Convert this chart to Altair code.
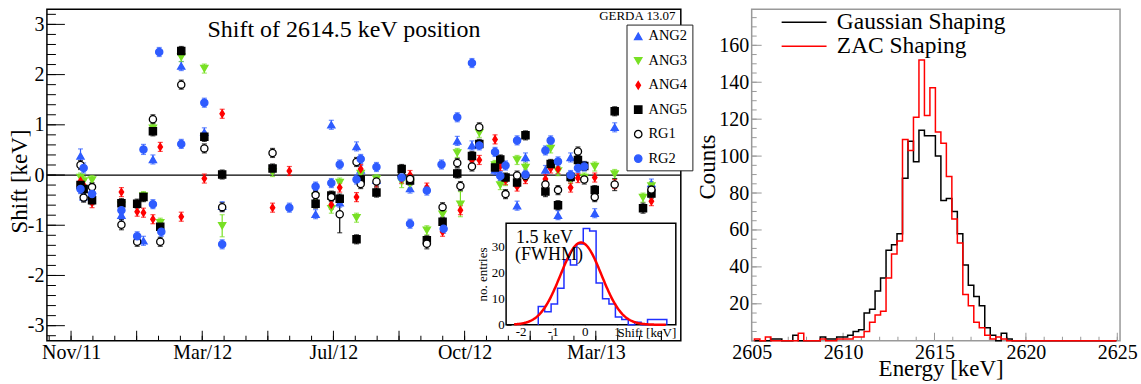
import altair as alt
import pandas as pd

FONT = "Liberation Serif"

# ---------------- left panel: shift of the 2614.5 keV line ----------------
SERIES = ["ANG2", "ANG3", "ANG4", "ANG5", "RG1", "RG2"]
SHAPES = ["triangle-up", "triangle-down", "M0,-1L0.62,0L0,1L-0.62,0Z", "square", "circle", "circle"]
STROKES = ["#2f5cff", "#78e024", "#ff0000", "#000000", "#000000", "#2f5cff"]
FILLS = ["#2f5cff", "#78e024", "#ff0000", "#000000", "#ffffff", "#2f5cff"]
ERR_DEFAULT = 0.09

# (days since 1 Nov 2011, shift [keV], error [keV] optional)
ANG2 = [(9, 0.38, 0.14), (12, -0.43), (20, -0.30), (48, -0.80), (69, -1.31), (78, 0.31),
        (105, 2.17), (127, 0.85), (144, -0.62), (233, -0.78), (248, 1.00), (256, -0.55),
        (272, 0.57), (276, 0.10), (291, -0.10), (315, 0.04), (323, -0.27), (368, 0.68),
        (382, 0.59), (404, 0.10), (425, -0.61), (433, 0.35), (452, 0.10), (464, -0.80),
        (476, 0.35), (499, -0.76), (518, 0.95), (553, -0.17)]
ANG3 = [(9, -0.05), (12, -0.12), (20, -0.10), (48, -0.60), (69, -0.42), (78, 0.93),
        (85, -0.95), (105, 2.35), (127, 2.12), (144, -1.01, 0.22), (192, 0.06), (233, -0.43),
        (248, -0.67), (256, -0.15), (272, -0.85), (276, 0.03), (291, -0.08), (315, -0.13, 0.12),
        (323, -0.17), (339, -1.10), (354, -0.78), (368, 0.44), (371, -0.58, 0.25), (389, 0.84),
        (404, 0.20), (409, -0.20), (414, -0.12), (425, 0.30), (433, 0.15), (457, 0.53),
        (464, 0.08), (476, -0.08), (489, -0.05), (499, 0.17), (518, 0.02), (545, -0.45),
        (553, -0.22)]
ANG4 = [(9, -0.12), (12, -0.20), (20, -0.55, 0.10), (48, -0.34), (63, -0.73), (69, -0.75),
        (78, -0.88), (85, 0.56), (105, -0.83), (127, -0.07), (144, 1.22), (192, -0.65),
        (208, 0.08), (248, -0.59), (256, -0.25), (272, -0.44), (276, 0.12), (291, -0.15),
        (315, -0.08), (323, 0.00), (339, -0.25), (354, -1.13), (371, -0.70), (382, 0.30),
        (389, 0.30), (404, 0.71), (409, 0.18), (414, -0.10), (425, -0.23), (433, -0.08),
        (452, -0.08), (457, 0.13), (464, 0.12), (476, -0.25), (483, -0.06), (499, -0.05),
        (518, -0.18), (553, -0.52)]
ANG5 = [(9, -0.20), (12, -0.28), (20, -0.50), (48, -0.56), (63, -0.57), (69, -0.44),
        (78, 0.87), (85, -1.03), (105, 2.47), (127, 0.76), (144, 0.01), (192, 0.13),
        (233, -0.57), (248, -0.41), (256, -0.47), (272, -1.28), (276, -0.09), (291, -0.35),
        (315, 0.12), (323, -0.11), (339, -1.30), (354, -0.93), (368, 0.03), (382, 0.38),
        (389, 0.62), (404, 0.15), (409, 0.31), (414, -0.05), (425, -0.15), (433, 0.79),
        (452, -0.33, 0.10), (457, 0.22), (464, -0.60), (476, -0.04), (483, 0.30), (489, 0.18),
        (499, -0.30), (518, 1.27), (545, -0.66, 0.10), (553, -0.37)]
RG1 = [(9, 0.20), (12, -0.45), (20, -0.24), (48, -0.99, 0.10), (63, -1.33), (78, 1.11, 0.09),
       (85, -1.33), (105, 1.80), (127, 0.53), (144, -0.64), (192, 0.44), (233, -0.40),
       (248, -0.44), (256, -0.78, 0.37), (272, 0.26), (276, -0.18), (291, -0.13), (315, -0.02),
       (323, -0.08), (339, -1.37, 0.10), (354, -0.64), (368, 0.24), (371, -0.22), (382, 0.17),
       (389, 0.95, 0.09), (414, -0.38), (425, -0.01), (433, -0.02), (452, -0.19), (464, -0.30),
       (483, 0.47, 0.09), (489, -0.09), (499, -0.44), (518, -0.19, 0.12), (553, -0.29)]
RG2 = [(9, -0.28), (12, 0.14, 0.10), (20, -0.38), (48, -0.70), (63, -1.22), (69, 0.51, 0.10),
       (78, -0.58), (84, 2.45), (86, -1.13), (105, 0.62, 0.09), (127, 1.44), (144, -1.38),
       (208, -0.65), (233, -0.23), (248, -0.16), (256, 0.21), (272, -0.09), (276, 0.32),
       (291, 0.16), (315, -0.05), (323, -0.97), (339, -0.31), (353, 0.21), (355, -1.07),
       (368, 1.15), (382, 2.23, 0.09), (389, 0.59), (404, 0.46), (409, -0.02), (414, 0.19),
       (425, 0.69), (433, 0.01), (452, 0.49), (457, 0.69), (464, 0.27), (476, 0.00),
       (483, 0.14), (489, 0.17)]
SERIES_DATA = {"ANG2": ANG2, "ANG3": ANG3, "ANG4": ANG4, "ANG5": ANG5, "RG1": RG1, "RG2": RG2}

TIME_TICK_DAYS = [0, 125, 250, 375, 500]
TIME_TICK_LABELS = ["Nov/11", "Mar/12", "Jul/12", "Oct/12", "Mar/13"]
Y_LABELS = [-3, -2, -1, 0, 1, 2, 3]
MAIN_XDOM = [-23, 581]
MAIN_YDOM = [-3.3, 3.3]
MAIN_TITLE = "Shift of 2614.5 keV position"
EXP_TAG = "GERDA 13.07"

# inset: distribution of all shifts
INSET_EDGE0 = -1.45
INSET_BIN = 0.2
INSET_COUNTS = [7, 5, 8, 14, 25, 23, 31, 37, 36, 16, 10, 8, 3, 2, 0, 1, 0, 2, 2, 2]
GAUSS_AMP = 31.6
GAUSS_MEAN = -0.12
GAUSS_FWHM = 1.5
INSET_XDOM = [-2.45, 2.83]
INSET_YDOM = [0, 39]

# ---------------- right panel: 2614.5 keV peak ----------------
SHAPING = ["Gaussian Shaping", "ZAC Shaping"]
E_EDGE0 = 2605.15
E_BIN = 0.3
GAUSS_SHAPING = [0, 0, 0, 1, 1, 0, 0, 3, 0, 0, 0, 0, 2, 1, 1, 2, 2, 3, 5, 6,
                 15, 17, 27, 34, 49, 52, 58, 88, 108, 97, 114, 111, 111, 100, 76, 77,
                 70, 58, 41, 30, 24, 19, 7, 3, 0, 4, 1, 0, 0, 0, 0, 0, 0, 0, 0, 0,
                 0, 0, 0, 0, 0, 0, 0, 0, 0, 0]
ZAC_SHAPING = [1, 0, 2, 0, 0, 0, 0, 0, 4, 0, 0, 0, 1, 0, 0, 1, 1, 1, 2, 2,
               5, 10, 14, 16, 34, 47, 54, 109, 103, 121, 152, 122, 137, 113, 107, 89,
               66, 53, 25, 19, 10, 7, 3, 1, 2, 1, 0, 0, 0, 0, 0, 0, 0, 0, 0, 0,
               0, 0, 0, 0, 0, 0, 0, 0, 0, 0]
E_XDOM = [2605, 2625.15]
E_YDOM = [0, 179.5]
E_TICKS = [2605, 2610, 2615, 2620, 2625]
C_TICKS = [20, 40, 60, 80, 100, 120, 140, 160]

# ---------------- layout ----------------
MW, MH = 635, 332
RW, RH = 369, 332
INSET_XR = [460, 630]
INSET_YR = [316, 214.3]

MINUS_FIX = "replace(datum.label, '\u2212', '-')"


def label_expr(values, labels):
    expr = "''"
    for v, l in reversed(list(zip(values, labels))):
        expr = f"datum.value == {v} ? '{l}' : {expr}"
    return expr


rows = []
for s in SERIES:
    for t in SERIES_DATA[s]:
        e = t[2] if len(t) > 2 else ERR_DEFAULT
        rows.append({"series": s, "bar": "e_" + s, "day": t[0], "shift": t[1],
                     "lo": t[1] - e, "hi": t[1] + e})
pts = pd.DataFrame(rows)

mx_scale = alt.Scale(domain=MAIN_XDOM, nice=False, zero=False)
my_scale = alt.Scale(domain=MAIN_YDOM, nice=False, zero=False)
main_x_axis = alt.Axis(values=TIME_TICK_DAYS, labelExpr=label_expr(TIME_TICK_DAYS, TIME_TICK_LABELS),
                       ticks=False, tickSize=0, domain=False, grid=False, labelFontSize=20,
                       labelPadding=2, title=None, labelFlush=False, labelOverlap=False)
main_y_axis = alt.Axis(values=Y_LABELS, labelExpr=MINUS_FIX, ticks=False, tickSize=0, domain=False,
                       grid=False, labelFontSize=20, labelPadding=3, title="Shift [keV]",
                       titleFontSize=23, titleX=-20, titleY=172, titleAngle=270,
                       titleBaseline="alphabetic", titleAlign="center", titleFontWeight="normal")


def MX(f):
    return alt.X(f, type="quantitative", scale=mx_scale, axis=main_x_axis)


def MY(f):
    return alt.Y(f, type="quantitative", scale=my_scale, axis=main_y_axis)


legend_left = alt.Legend(orient="none", legendX=580.6, legendY=15.3, title=None, padding=4.5,
                         rowPadding=9.5, labelFont=FONT, labelFontSize=14.5, symbolSize=55,
                         symbolStrokeWidth=1.3, strokeColor="#222222", fillColor="white",
                         labelOffset=3, labelLimit=200)
stroke_enc = alt.Stroke("series:N", scale=alt.Scale(domain=SERIES, range=STROKES), legend=legend_left)
fill_enc = alt.Fill("series:N", scale=alt.Scale(domain=SERIES, range=FILLS), legend=legend_left)
shape_enc = alt.Shape("series:N", scale=alt.Scale(domain=SERIES, range=SHAPES), legend=legend_left)
color_enc = alt.Color("bar:N", scale=alt.Scale(domain=["e_" + s for s in SERIES], range=STROKES),
                      legend=None)

zero_line = alt.Chart(pd.DataFrame({"v": [0]})).mark_rule(color="black", strokeWidth=1.2).encode(y=MY("v"))
err_bars = alt.Chart(pts).mark_rule(strokeWidth=1.2).encode(x=MX("day"), y=MY("lo"), y2="hi", color=color_enc)
err_caps = alt.Chart(pts).transform_fold(["lo", "hi"], as_=["end", "yv"]).mark_tick(
    orient="horizontal", size=5, thickness=1.2).encode(x=MX("day"), y=MY("yv"), color=color_enc)
points = alt.Chart(pts).mark_point(size=52, strokeWidth=1.3, opacity=1).encode(
    x=MX("day"), y=MY("shift"), shape=shape_enc, stroke=stroke_enc, fill=fill_enc)

y_minor = [round(-3.2 + 0.2 * i, 2) for i in range(33)]
x_major = [62.5 * i for i in range(0, 10)]
x_minor = [125 / 6 * i for i in range(-1, 28)]
ytick_minor = alt.Chart(pd.DataFrame({"v": y_minor})).mark_rule(color="black").encode(
    y=MY("v"), x=alt.value(0), x2=alt.value(9))
ytick_major = alt.Chart(pd.DataFrame({"v": Y_LABELS})).mark_rule(color="black").encode(
    y=MY("v"), x=alt.value(0), x2=alt.value(18))
xtick_minor = alt.Chart(pd.DataFrame({"v": x_minor})).mark_rule(color="black").encode(
    x=MX("v"), y=alt.value(MH), y2=alt.value(MH - 5))
xtick_major = alt.Chart(pd.DataFrame({"v": x_major})).mark_rule(color="black").encode(
    x=MX("v"), y=alt.value(MH), y2=alt.value(MH - 10))

title_txt = alt.Chart(pd.DataFrame({"x": [260], "y": [2.74], "t": [MAIN_TITLE]})).mark_text(
    fontSize=24, align="center", baseline="alphabetic", color="black").encode(x=MX("x"), y=MY("y"), text="t:N")
tag_txt = alt.Chart(pd.DataFrame({"x": [576], "y": [3.08], "t": [EXP_TAG]})).mark_text(
    fontSize=13, align="right", baseline="alphabetic", color="black").encode(x=MX("x"), y=MY("y"), text="t:N")

main = alt.layer(zero_line, xtick_minor, xtick_major, ytick_minor, ytick_major,
                 err_bars, err_caps, points, title_txt, tag_txt)

# inset
ix_scale = alt.Scale(domain=INSET_XDOM, range=INSET_XR, nice=False, zero=False)
iy_scale = alt.Scale(domain=INSET_YDOM, range=INSET_YR, nice=False, zero=False)
ix_axis = alt.Axis(orient="bottom", offset=-21, values=[-2, -1, 0, 1], labelExpr=MINUS_FIX, tickSize=5,
                   tickColor="black", domain=False, grid=False, labelFontSize=13, labelPadding=1,
                   title="Shift [keV]", titleFontSize=13, titleX=630, titleY=13, titleAlign="right",
                   titleBaseline="middle", titleFontWeight="normal", labelFlush=False)
iy_axis = alt.Axis(orient="left", offset=-465, values=[0, 10, 20, 30], tickSize=5, tickColor="black",
                   domain=False, grid=False, labelFontSize=13, labelPadding=2, title="no. entries",
                   titleFontSize=13, titlePadding=2, titleFontWeight="normal", labelFlush=False)


def IX(f):
    return alt.X(f, type="quantitative", scale=ix_scale, axis=ix_axis)


def IY(f):
    return alt.Y(f, type="quantitative", scale=iy_scale, axis=iy_axis)


frame = alt.Chart(pd.DataFrame({"x": [INSET_XDOM[0]], "x1": [INSET_XDOM[1]], "y": [INSET_YDOM[0]],
                                "y1": [INSET_YDOM[1]]})).mark_rect(
    fill="white", stroke="black", strokeWidth=1.5).encode(x=IX("x"), x2="x1", y=IY("y"), y2="y1")

ih = [{"x": INSET_EDGE0, "y": 0, "i": 0}]
for k, c in enumerate(INSET_COUNTS):
    ih.append({"x": INSET_EDGE0 + k * INSET_BIN, "y": c, "i": k + 1})
ih.append({"x": INSET_EDGE0 + len(INSET_COUNTS) * INSET_BIN, "y": 0, "i": len(INSET_COUNTS) + 1})
inset_hist = alt.Chart(pd.DataFrame(ih)).mark_line(interpolate="step-after", color="#2030ff",
                                                   strokeWidth=1.5).encode(x=IX("x"), y=IY("y"), order="i:Q")
sigma = GAUSS_FWHM / 2.3548
gauss = alt.Chart(alt.sequence(-2.2, 2.52, 0.02, as_="x")).transform_calculate(
    y=f"{GAUSS_AMP} * exp(-0.5 * pow((datum.x - ({GAUSS_MEAN})) / {sigma}, 2))"
).mark_line(color="#ff0000", strokeWidth=2.5).encode(x=IX("x"), y=IY("y"))
inset_txt = alt.Chart(pd.DataFrame({"x": [-2.14, -2.17], "y": [31.6, 25.0], "t": ["1.5 keV", "(FWHM)"]})).mark_text(
    fontSize=18, align="left", baseline="alphabetic", color="black").encode(x=IX("x"), y=IY("y"), text="t:N")

inset = alt.layer(frame, inset_hist, gauss, inset_txt)

left = alt.layer(main, inset).resolve_scale(x="independent", y="independent").properties(
    width=MW, height=MH, view=alt.ViewBackground(stroke="black", strokeWidth=1.5))

# right panel
hr = []
for name, counts in zip(SHAPING, [GAUSS_SHAPING, ZAC_SHAPING]):
    hr.append({"E": E_EDGE0, "C": 0, "i": 0, "shaping": name})
    for k, c in enumerate(counts):
        hr.append({"E": E_EDGE0 + k * E_BIN, "C": c, "i": k + 1, "shaping": name})
    hr.append({"E": E_EDGE0 + len(counts) * E_BIN, "C": 0, "i": len(counts) + 1, "shaping": name})
hist_df = pd.DataFrame(hr)

rx_axis = alt.Axis(values=E_TICKS, ticks=False, tickSize=0, domain=False, grid=False, labelFontSize=20,
                   labelPadding=2, title="Energy [keV]", titleFontSize=23, titleX=189.3, titleY=35,
                   titleAlign="center", titleBaseline="alphabetic", titleFontWeight="normal",
                   labelFlush=False, format="d")
ry_axis = alt.Axis(values=C_TICKS, ticks=False, tickSize=0, domain=False, grid=False, labelFontSize=20,
                   labelPadding=3, title="Counts", titleFontSize=23, titleX=-37.7, titleY=157.5,
                   titleAngle=270, titleBaseline="alphabetic", titleAlign="center",
                   titleFontWeight="normal")
rx_scale = alt.Scale(domain=E_XDOM, nice=False, zero=False)
ry_scale = alt.Scale(domain=E_YDOM, nice=False, zero=False)


def RX(f):
    return alt.X(f, type="quantitative", scale=rx_scale, axis=rx_axis)


def RY(f):
    return alt.Y(f, type="quantitative", scale=ry_scale, axis=ry_axis)


legend_right = alt.Legend(orient="none", legendX=29, legendY=2.5, title=None, symbolType="stroke",
                          symbolSize=2025, symbolStrokeWidth=1.5, labelFont=FONT, labelFontSize=23.5,
                          labelOffset=9.3, padding=0, rowPadding=0, clipHeight=21, labelLimit=400)
hist = alt.Chart(hist_df).mark_line(interpolate="step-after", strokeWidth=1.5).encode(
    x=RX("E"), y=RY("C"), order="i:Q",
    stroke=alt.Stroke("shaping:N", scale=alt.Scale(domain=SHAPING, range=["#000000", "#ff0000"]),
                      legend=legend_right))

GRAY = "#999999"
r_ymin = [5 * i for i in range(0, 36)]
r_ymaj = [20 * i for i in range(0, 9)]
r_xmin = [2605 + i for i in range(0, 21)]
rt1 = alt.Chart(pd.DataFrame({"v": r_ymin})).mark_rule(color=GRAY).encode(y=RY("v"), x=alt.value(0), x2=alt.value(5))
rt2 = alt.Chart(pd.DataFrame({"v": r_ymaj})).mark_rule(color=GRAY).encode(y=RY("v"), x=alt.value(0), x2=alt.value(10))
rt3 = alt.Chart(pd.DataFrame({"v": r_xmin})).mark_rule(color=GRAY).encode(x=RX("v"), y=alt.value(RH), y2=alt.value(RH - 4))
rt4 = alt.Chart(pd.DataFrame({"v": E_TICKS})).mark_rule(color=GRAY).encode(x=RX("v"), y=alt.value(RH), y2=alt.value(RH - 8))

right = alt.layer(rt1, rt2, rt3, rt4, hist).properties(
    width=RW, height=RH, view=alt.ViewBackground(stroke=GRAY, strokeWidth=1.5))

chart = alt.hconcat(left, right, spacing=71, bounds="flush").resolve_scale(
    stroke="independent", fill="independent", shape="independent", color="independent"
).properties(padding={"left": 8, "top": 8, "right": 2, "bottom": 0}).configure_axis(
    labelFont=FONT, titleFont=FONT, labelColor="black", titleColor="black"
).configure_legend(labelFont=FONT, labelColor="black").configure_text(font=FONT)

chart.save("out.html", embed_options={"renderer": "svg", "actions": False})
